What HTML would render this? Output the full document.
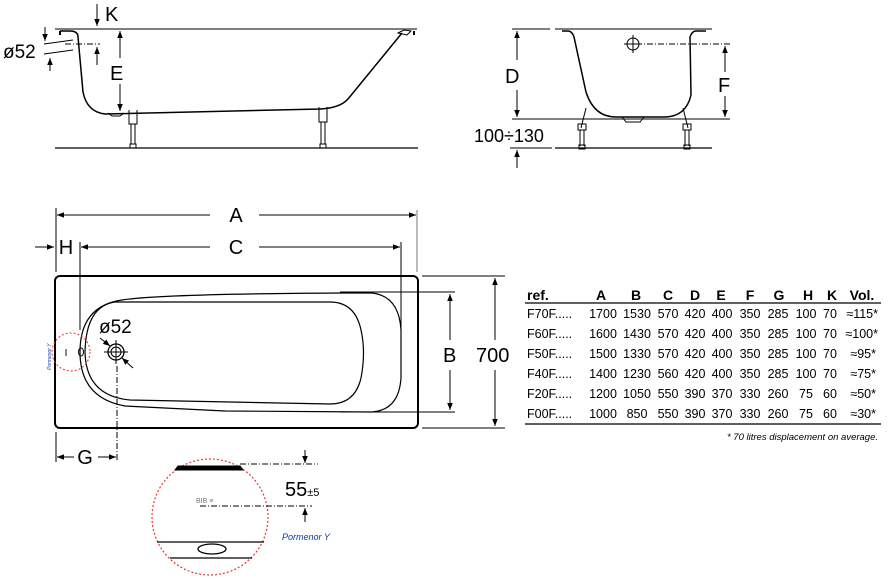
<!DOCTYPE html>
<html><head><meta charset="utf-8"><style>
html,body{margin:0;padding:0;background:#fff}
svg{display:block}
text{font-family:"Liberation Sans",sans-serif;fill:#000}
</style></head><body>
<svg width="889" height="584" viewBox="0 0 889 584" xmlns="http://www.w3.org/2000/svg">
<defs>
<marker id="ar" viewBox="0 0 10 10" refX="10" refY="5" markerWidth="9" markerHeight="7" orient="auto-start-reverse"><path d="M0,1 L10,5 L0,9 Z" fill="#000"/></marker>
</defs>
<g stroke="#000" fill="none" stroke-width="1">
<line x1="55" y1="29" x2="417" y2="29" stroke="#555" stroke-width="1.5"/>
<line x1="55" y1="148" x2="418" y2="148" stroke-width="1.3"/>
<path d="M60,31 h10 q8,0 8,6 L83,92 q4,20 22,22 L320,109 q20,-1 28,-10 L402,33" stroke-width="1.5"/>
<path d="M398,33 l6,-3 l7,1 l-4,4 z" stroke-width="1"/>
<path d="M60,31 v4 M414,31 v4" stroke-width="2"/>
<path d="M108,113 l4,3 h8 l4,-3" />
<path d="M129,110 v14 h8 v-14 M131,124 v20 M135,124 v20 M130,144 h6 v4 h-6z"/>
<path d="M319,107 v15 h8 v-15 M321,122 v22 M325,122 v22 M320,144 h6 v4 h-6z"/>
<line x1="97" y1="4" x2="97" y2="26" marker-end="url(#ar)"/>
<line x1="120" y1="58" x2="120" y2="31" marker-end="url(#ar)"/>
<line x1="120" y1="84" x2="120" y2="111" marker-end="url(#ar)"/>
<line x1="65" y1="44" x2="100" y2="44" stroke-dasharray="6,2,1,2"/>
<line x1="97" y1="65" x2="97" y2="47" marker-end="url(#ar)"/>
<line x1="45" y1="27" x2="45" y2="41" marker-end="url(#ar)"/>
<line x1="50" y1="71" x2="50" y2="58" marker-end="url(#ar)"/>
<line x1="44" y1="44" x2="73" y2="40"/><line x1="44" y1="54" x2="73" y2="50"/>
<line x1="555" y1="29" x2="712" y2="29" stroke="#555" stroke-width="1.5"/>
<path d="M562,31 h6 q4,0 6,6 L586,92 q8,25 30,25 h48 q22,0 27,-22 L690,37 q2,-6 6,-6 h10" stroke-width="1.5"/>
<path d="M622,117 l4,5 h14 l4,-5"/>
<path d="M586,108 l-5,20 M683,108 l5,20"/>
<path d="M578,124 h8 v6 h-8z M580,130 v16 M584,130 v16 M579,145 h6 v4 h-6z"/>
<path d="M683,124 h8 v6 h-8z M685,130 v16 M689,130 v16 M684,145 h6 v4 h-6z"/>
<line x1="555" y1="148" x2="712" y2="148" stroke-width="1.3"/>
<line x1="512" y1="29" x2="550" y2="29"/>
<line x1="512" y1="119" x2="730" y2="119"/>
<line x1="510" y1="148" x2="552" y2="148"/>
<line x1="517" y1="60" x2="517" y2="31" marker-end="url(#ar)"/>
<line x1="517" y1="90" x2="517" y2="117" marker-end="url(#ar)"/>
<line x1="517" y1="168" x2="517" y2="150" marker-end="url(#ar)"/>
<line x1="625" y1="44" x2="730" y2="44" stroke-dasharray="6,2,1,2"/>
<circle cx="633" cy="44" r="6"/><path d="M624,44 h18 M633,35 v18"/>
<line x1="725" y1="72" x2="725" y2="46" marker-end="url(#ar)"/>
<line x1="725" y1="96" x2="725" y2="117" marker-end="url(#ar)"/>
<rect x="55" y="276" width="363" height="152" rx="5" stroke-width="2"/>
<path d="M122,300 Q160,294 340,293 L372,293 Q399,296 401,330 L401,378 Q399,410 372,412 L225,411 L125,406 Q80,398 80,352 Q80,306 122,300 Z" stroke-width="1.2"/>
<path d="M115,302 L330,302 Q355,302 361,330 Q366,352 361,378 Q355,404 330,404 L130,400 Q86,396 85,352 Q86,306 115,302 Z" stroke-width="1.2"/>
<line x1="56" y1="208" x2="56" y2="272"/>
<line x1="417" y1="210" x2="417" y2="272" stroke="#777"/>
<line x1="80" y1="242" x2="80" y2="330"/>
<line x1="401" y1="242" x2="401" y2="330"/>
<line x1="57" y1="215" x2="210" y2="215" marker-start="url(#ar)"/>
<line x1="259" y1="215" x2="416" y2="215" marker-end="url(#ar)"/>
<line x1="81" y1="247" x2="210" y2="247" marker-start="url(#ar)"/>
<line x1="259" y1="247" x2="400" y2="247" marker-end="url(#ar)"/>
<line x1="35" y1="247" x2="54" y2="247" marker-end="url(#ar)"/>
<line x1="422" y1="276" x2="505" y2="276"/>
<line x1="422" y1="428" x2="505" y2="428"/>
<line x1="340" y1="292" x2="455" y2="292"/>
<line x1="340" y1="412" x2="455" y2="412"/>
<line x1="495" y1="340" x2="495" y2="278" marker-end="url(#ar)"/>
<line x1="495" y1="370" x2="495" y2="426" marker-end="url(#ar)"/>
<line x1="450" y1="340" x2="450" y2="294" marker-end="url(#ar)"/>
<line x1="450" y1="370" x2="450" y2="410" marker-end="url(#ar)"/>
<circle cx="116" cy="352" r="8" stroke-width="1.3"/><circle cx="116" cy="352" r="5"/>
<path d="M104,352 h24 M116,340 v24"/>
<line x1="100" y1="338" x2="110" y2="346" marker-end="url(#ar)"/>
<line x1="133" y1="368" x2="122" y2="358" marker-end="url(#ar)"/>
<line x1="117" y1="366" x2="117" y2="460" stroke-dasharray="6,2,1,2"/>
<line x1="56" y1="432" x2="56" y2="462"/>
<line x1="74" y1="457" x2="57" y2="457" marker-end="url(#ar)"/>
<line x1="98" y1="457" x2="116" y2="457" marker-end="url(#ar)"/>
<ellipse cx="81" cy="352" rx="2.5" ry="4"/>
<circle cx="71" cy="352" r="19" stroke="#e33" stroke-dasharray="2,2"/>
<line x1="66" y1="349" x2="66" y2="356" stroke="#888" stroke-width="2"/>
<circle cx="210" cy="517" r="58" stroke="#e33" stroke-dasharray="2,2" stroke-width="1.2"/>
<path d="M178,466 L240,466 L243,470 L175,470 Z" fill="#000"/>
<line x1="240" y1="464" x2="318" y2="464" stroke-dasharray="6,2,1,2"/>
<line x1="200" y1="506" x2="312" y2="506" stroke-dasharray="6,2,1,2"/>
<line x1="305" y1="450" x2="305" y2="463" marker-end="url(#ar)"/>
<line x1="305" y1="522" x2="305" y2="508" marker-end="url(#ar)"/>
<line x1="157" y1="542" x2="264" y2="542" stroke-width="1.3"/>
<line x1="170" y1="558" x2="252" y2="558" stroke-width="1.3"/>
<ellipse cx="212" cy="549" rx="14" ry="5" stroke-width="1.3"/>
<line x1="525" y1="303" x2="881" y2="303" stroke-width="1.2"/>
<line x1="525" y1="424" x2="881" y2="424" stroke-width="1.2"/>
</g>
<text x="105" y="21" font-size="20">K</text>
<text x="110" y="80" font-size="20">E</text>
<text x="3" y="58" font-size="19">ø52</text>
<text x="505" y="83" font-size="20">D</text>
<text x="718" y="92" font-size="20">F</text>
<text x="474" y="142" font-size="18">100÷130</text>
<text x="236" y="222" font-size="20" text-anchor="middle">A</text>
<text x="236" y="254" font-size="20" text-anchor="middle">C</text>
<text x="66" y="254" font-size="20" text-anchor="middle">H</text>
<text x="85" y="464" font-size="20" text-anchor="middle">G</text>
<text x="99" y="333" font-size="19">ø52</text>
<text x="443" y="362" font-size="20">B</text>
<text x="476" y="362" font-size="20">700</text>
<text x="51" y="370" font-size="5" transform="rotate(-90 51 370)" font-style="italic" style="fill:#13a">Pormenor Y</text>
<text x="196" y="503" font-size="7" style="fill:#777">BIB ≡</text>
<text x="285" y="496" font-size="20">55<tspan font-size="11">±5</tspan></text>
<text x="282" y="540" font-size="9" font-style="italic" style="fill:#13a">Pormenor Y</text>
<g font-size="14" font-weight="bold" text-anchor="middle">
<text x="527" y="300" text-anchor="start">ref.</text>
<text x="601" y="300">A</text><text x="636" y="300">B</text><text x="668" y="300">C</text><text x="695" y="300">D</text><text x="721" y="300">E</text><text x="750" y="300">F</text><text x="779" y="300">G</text><text x="808" y="300">H</text><text x="832" y="300">K</text><text x="862" y="300">Vol.</text>
</g>
<g font-size="12.5" text-anchor="middle">
<text x="527" y="318" text-anchor="start">F70F.....</text><text x="603" y="318">1700</text><text x="637" y="318">1530</text><text x="668" y="318">570</text><text x="695" y="318">420</text><text x="722" y="318">400</text><text x="750" y="318">350</text><text x="778" y="318">285</text><text x="806" y="318">100</text><text x="830" y="318">70</text><text x="878" y="318" text-anchor="end">≈115*</text>
<text x="527" y="338" text-anchor="start">F60F.....</text><text x="603" y="338">1600</text><text x="637" y="338">1430</text><text x="668" y="338">570</text><text x="695" y="338">420</text><text x="722" y="338">400</text><text x="750" y="338">350</text><text x="778" y="338">285</text><text x="806" y="338">100</text><text x="830" y="338">70</text><text x="878" y="338" text-anchor="end">≈100*</text>
<text x="527" y="358" text-anchor="start">F50F.....</text><text x="603" y="358">1500</text><text x="637" y="358">1330</text><text x="668" y="358">570</text><text x="695" y="358">420</text><text x="722" y="358">400</text><text x="750" y="358">350</text><text x="778" y="358">285</text><text x="806" y="358">100</text><text x="830" y="358">70</text><text x="876" y="358" text-anchor="end">≈95*</text>
<text x="527" y="378" text-anchor="start">F40F.....</text><text x="603" y="378">1400</text><text x="637" y="378">1230</text><text x="668" y="378">560</text><text x="695" y="378">420</text><text x="722" y="378">400</text><text x="750" y="378">350</text><text x="778" y="378">285</text><text x="806" y="378">100</text><text x="830" y="378">70</text><text x="876" y="378" text-anchor="end">≈75*</text>
<text x="527" y="398" text-anchor="start">F20F.....</text><text x="603" y="398">1200</text><text x="637" y="398">1050</text><text x="668" y="398">550</text><text x="695" y="398">390</text><text x="722" y="398">370</text><text x="750" y="398">330</text><text x="778" y="398">260</text><text x="806" y="398">75</text><text x="830" y="398">60</text><text x="876" y="398" text-anchor="end">≈50*</text>
<text x="527" y="418" text-anchor="start">F00F.....</text><text x="603" y="418">1000</text><text x="637" y="418">850</text><text x="668" y="418">550</text><text x="695" y="418">390</text><text x="722" y="418">370</text><text x="750" y="418">330</text><text x="778" y="418">260</text><text x="806" y="418">75</text><text x="830" y="418">60</text><text x="876" y="418" text-anchor="end">≈30*</text>
</g>
<text x="878" y="440" font-size="9.5" font-style="italic" text-anchor="end">* 70 litres displacement on average.</text>
</svg>
</body></html>
